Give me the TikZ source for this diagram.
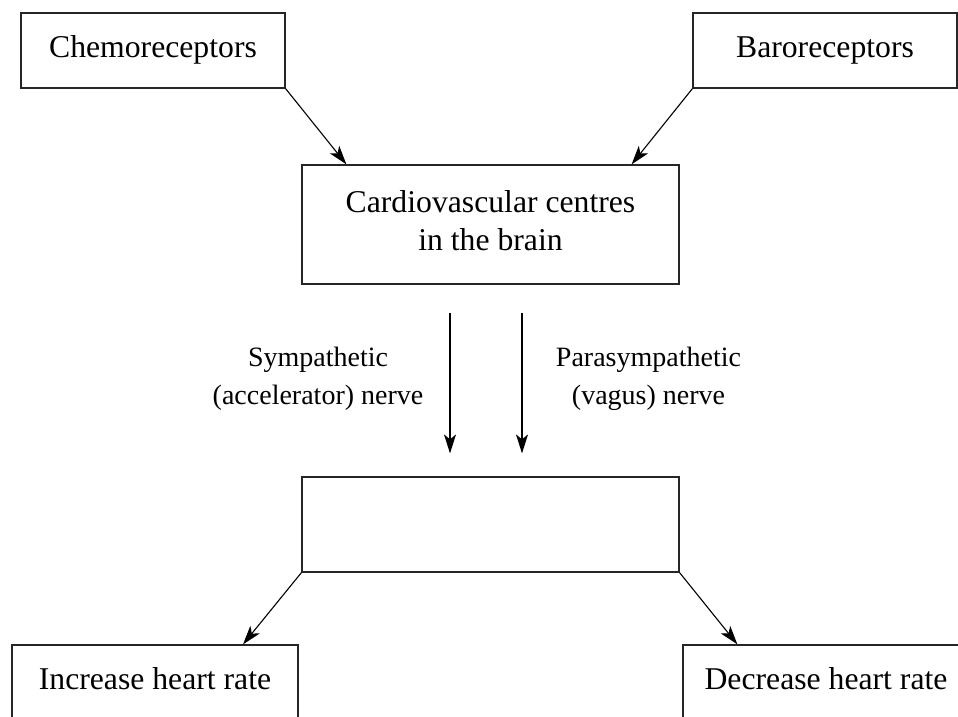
\documentclass[tikz,border=0pt]{standalone}
\usepackage{fontspec}
\setmainfont{Liberation Serif}
\usetikzlibrary{arrows.meta}
\begin{document}
\begin{tikzpicture}[x=1pt,y=-1pt,
  box/.style={draw=black!85,line width=1.2pt,rectangle,inner sep=0pt,
    font=\fontsize{31.7}{38}\selectfont,text height=22pt,text depth=8pt,align=center},
  lbl/.style={inner sep=0pt,font=\fontsize{28}{38}\selectfont,align=center,
    text height=57.5pt,text depth=7pt},
  arr/.style={line width=1.1pt,-{Stealth[length=19pt,width=12pt,inset=5pt]}}]
\useasboundingbox (0,0) rectangle (958,716);
\clip (0,0) rectangle (958,716);
\node[box,minimum width=264pt,minimum height=75pt] (chemo) at (153,50.5) {Chemoreceptors};
\node[box,minimum width=264pt,minimum height=75pt] (baro) at (825,50.5) {Baroreceptors};
\node[box,minimum width=377pt,minimum height=119pt,text height=60pt] (cardio) at (490.5,224.5) {Cardiovascular centres\\in the brain};
\node[box,minimum width=377pt,minimum height=95pt] (empty) at (490.5,524.5) {};
\node[box,minimum width=286pt,minimum height=74pt] (inc) at (155,682) {Increase heart rate};
\node[box,minimum width=286pt,minimum height=74pt] (dec) at (826,682) {Decrease heart rate};
\node[lbl] (symp) at (318,379) {Sympathetic\\(accelerator) nerve};
\node[lbl] (para) at (648.5,379) {Parasympathetic\\(vagus) nerve};
\draw[arr] (chemo.south east) -- ([xshift=45pt]cardio.north west);
\draw[arr] (baro.south west) -- ([xshift=-48pt]cardio.north east);
\draw[arr] ([xshift=-40.5pt,yshift=-28pt]cardio.south) -- ([xshift=-40.5pt,yshift=23pt]empty.north);
\draw[arr] ([xshift=31.5pt,yshift=-28pt]cardio.south) -- ([xshift=31.5pt,yshift=23pt]empty.north);
\draw[arr] (empty.south west) -- ([xshift=88pt]inc.north);
\draw[arr] (empty.south east) -- ([xshift=55pt]dec.north west);
\end{tikzpicture}
\end{document}
